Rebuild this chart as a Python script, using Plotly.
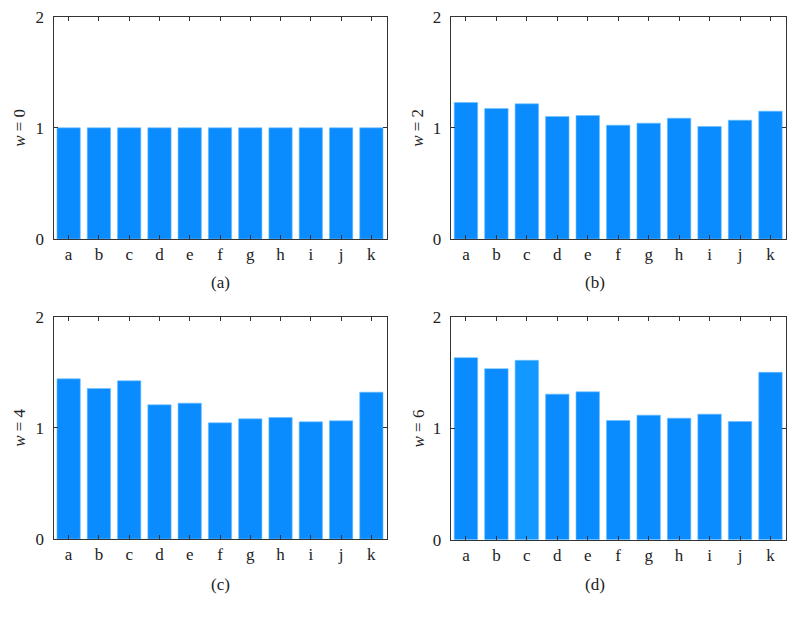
import plotly.graph_objects as go

categories = ["a", "b", "c", "d", "e", "f", "g", "h", "i", "j", "k"]
w0 = [1.0, 1.0, 1.0, 1.0, 1.0, 1.0, 1.0, 1.0, 1.0, 1.0, 1.0]
w2 = [1.228, 1.174, 1.216, 1.102, 1.111, 1.024, 1.042, 1.087, 1.012, 1.069, 1.150]
w4 = [1.441, 1.354, 1.423, 1.207, 1.222, 1.045, 1.081, 1.093, 1.054, 1.063, 1.321]
w6 = [1.637, 1.538, 1.613, 1.309, 1.330, 1.072, 1.120, 1.093, 1.129, 1.063, 1.505]
series = [w0, w2, w4, w6]
y_titles = ["<i>w</i> = 0", "<i>w</i> = 2", "<i>w</i> = 4", "<i>w</i> = 6"]
panel_labels = ["(a)", "(b)", "(c)", "(d)"]
y_ticks = [0, 1, 2]

W, H = 795, 618
# panel boxes in pixels: (left, right, top, bottom)
boxes = [
    (53.5, 386.5, 16.7, 239.0),
    (450.7, 785.7, 16.7, 239.0),
    (53.5, 386.5, 316.7, 539.0),
    (450.7, 785.7, 317.3, 539.7),
]
label_pos = [(220, 283), (595, 283), (220, 584), (595, 584)]
title_x = [20, 418, 20, 418]

fig = go.Figure()
font_family = "Liberation Serif, DejaVu Serif, serif"
base = "#0a8cff"

for i, vals in enumerate(series):
    n = "" if i == 0 else str(i + 1)
    colors = [base] * len(vals)
    if i == 3:
        colors[2] = "#1298ff"
    fig.add_trace(go.Bar(
        x=categories, y=vals, xaxis="x" + n, yaxis="y" + n,
        marker=dict(color=colors, line=dict(color="#6cc0ff", width=0.6)),
        showlegend=False,
    ))
    l, r, t, b = boxes[i]
    xd = [l / W, r / W]
    yd = [1 - b / H, 1 - t / H]
    fig.update_layout(**{
        "xaxis" + n: dict(
            domain=xd, anchor="y" + n, type="category", automargin=False,
            showline=True, linecolor="#333", linewidth=1, mirror="ticks",
            ticks="inside", ticklen=4, tickcolor="#333",
            tickfont=dict(family=font_family, size=17, color="#222"),
            showgrid=False, zeroline=False, fixedrange=True,
        ),
        "yaxis" + n: dict(
            domain=yd, anchor="x" + n, range=[0, 2], automargin=False,
            tickvals=y_ticks, ticktext=[str(v) for v in y_ticks],
            showline=True, linecolor="#333", linewidth=1, mirror="ticks",
            ticks="inside", ticklen=4, tickcolor="#333", ticklabelstandoff=5,
            tickfont=dict(family=font_family, size=17, color="#222"),
            showgrid=False, zeroline=False, fixedrange=True,
        ),
    })
    lx, ly = label_pos[i]
    fig.add_annotation(
        x=lx / W, y=1 - ly / H, xref="paper", yref="paper",
        xanchor="center", yanchor="middle",
        text=panel_labels[i], showarrow=False,
        font=dict(family=font_family, size=17, color="#222"),
    )
    fig.add_annotation(
        x=title_x[i] / W, y=1 - ((t + b) / 2) / H, xref="paper", yref="paper",
        xanchor="center", yanchor="middle", textangle=-90,
        text=y_titles[i], showarrow=False,
        font=dict(family=font_family, size=17, color="#222"),
    )

fig.update_layout(
    width=W, height=H,
    margin=dict(l=0, r=0, t=0, b=0),
    paper_bgcolor="white", plot_bgcolor="white",
    bargap=0.23,
)

fig.write_html(
    "out.html",
    config={"displayModeBar": False},
    post_script="document.body.style.margin='0';document.body.style.padding='0';",
)
